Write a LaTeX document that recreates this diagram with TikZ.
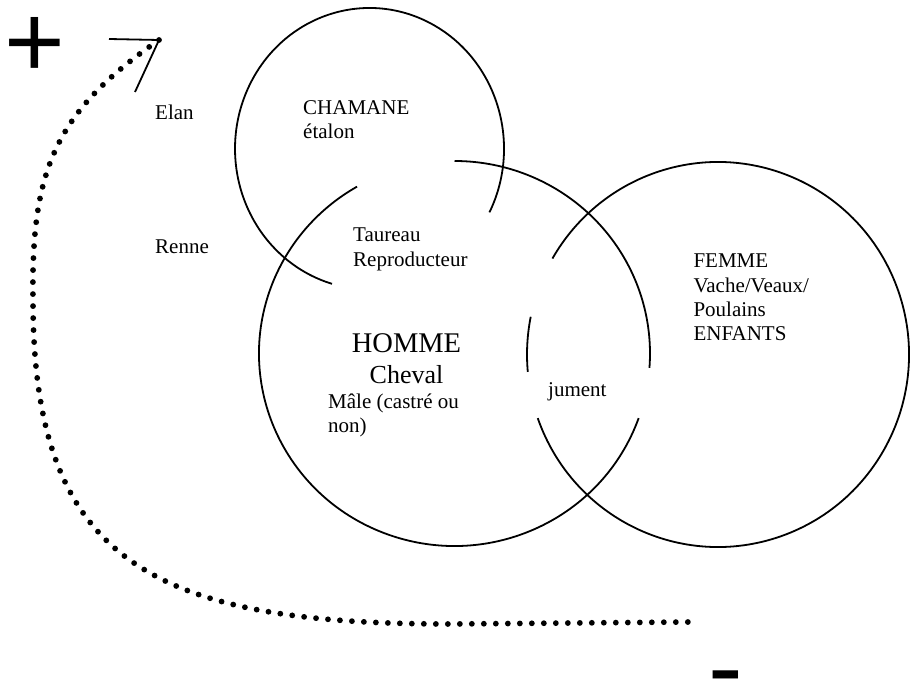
\documentclass[tikz,border=0pt]{standalone}
\usepackage{fontspec}
\setmainfont{Liberation Serif}
\newfontfamily\signfont{Liberation Sans}

\begin{document}
\begin{tikzpicture}[x=1pt, y=-1pt,
  ring/.style={line width=1.8pt},
  word/.style={inner sep=0pt, anchor=base west, align=left, font=\fontsize{21}{24.4}\selectfont},
  trail/.style={line width=5.8pt, line cap=round, dash pattern=on 0pt off 12pt},
  sign/.style={inner sep=0pt, font=\signfont\fontsize{104}{104}\selectfont}]
\useasboundingbox (0,0) rectangle (910,679);

% centres of the three circles
\coordinate (chamane) at (369.5,148.7);
\coordinate (homme) at (454.5,353.5);
\coordinate (femme) at (718,354.5);

% the circles, left open where the text boxes cover them
\draw[ring] ([shift={(chamane)}]26.9:134.5 and 140.7) arc[start angle=26.9, end angle=-253.8, x radius=134.5, y radius=140.7];
\draw[ring] ([shift={(homme)}]-90:195.5 and 192.5) arc[start angle=-90, end angle=4.3, x radius=195.5, y radius=192.5];
\draw[ring] ([shift={(homme)}]19.6:195.5 and 192.5) arc[start angle=19.6, end angle=240.1, x radius=195.5, y radius=192.5];
\draw[ring] ([shift={(femme)}]160.7:191 and 192.5) arc[start angle=160.7, end angle=-150.1, x radius=191, y radius=192.5];
\draw[ring] ([shift={(femme)}]-168.7:191 and 192.5) arc[start angle=-168.7, end angle=-185.2, x radius=191, y radius=192.5];

% dotted trail from - to +
\coordinate (tip) at (159,40);
\coordinate (bend) at (33,300);
\coordinate (low) at (450,624);
\coordinate (tail) at (690,622);
\draw[trail] (tip) .. controls (55,112) and (31,170) .. (bend)
  .. controls (33,560) and (150,624) .. (low) -- (tail);

% open head at the top end
\coordinate (barbA) at (109,39);
\coordinate (barbB) at (135,92);
\draw[ring] (barbA) -- (tip) -- (barbB);

% texts (multi-line nodes sit on the baseline of their last line)
\node[word] (elan) at (155,120) {Elan};
\node[word] (renne) at (155,253.3) {Renne};
\node[word] (chamanetext) at (303,138.7) {CHAMANE\\étalon};
\node[word] (taureau) at (353,266.1) {Taureau\\Reproducteur};
\node[word, anchor=base, font=\fontsize{28.5}{31}\selectfont] (hommetext) at (406.5,352) {HOMME};
\node[word, anchor=base, font=\fontsize{26}{30}\selectfont] (cheval) at (406.5,383) {Cheval};
\node[word] (male) at (328,432.4) {Mâle (castré ou\\non)};
\node[word] (jument) at (548,396.7) {jument};
\node[word] (femmetext) at (693.3,340.9) {FEMME\\Vache/Veaux/\\Poulains\\ENFANTS};

% the two signs
\node[sign] (plus) at (34.7,47) {+};
\node[sign, anchor=base west] (minus) at (708.7,702) {-};
\end{tikzpicture}
\end{document}
